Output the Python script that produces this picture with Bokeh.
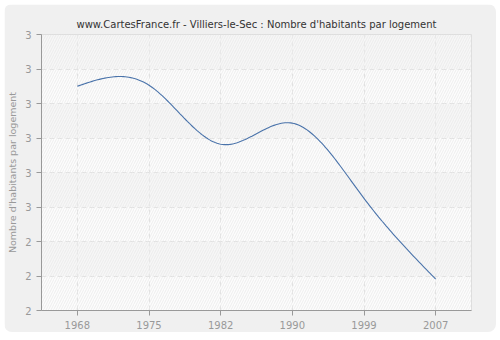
import numpy as np
from bokeh.plotting import figure
from bokeh.models import FixedTicker, BoxAnnotation
from bokeh.embed import file_html
from bokeh.resources import INLINE

years = ["1968", "1975", "1982", "1990", "1999", "2007"]
values = [2.850, 2.853, 2.682, 2.743, 2.525, 2.291]
y_ticks = [2.2, 2.3, 2.4, 2.5, 2.6, 2.7, 2.8, 2.9, 3.0]
y_tick_labels = ["2", "2", "2", "3", "3", "3", "3", "3", "3"]

# natural cubic spline through the data points (index space) for a smooth line
xi = np.arange(len(values), dtype=float)
yi = np.array(values)
n = len(yi)
A = np.zeros((n, n)); d = np.zeros(n)
A[0, 0] = 1; A[-1, -1] = 1
for i in range(1, n - 1):
    A[i, i - 1] = 1; A[i, i] = 4; A[i, i + 1] = 1
    d[i] = 6 * (yi[i + 1] - 2 * yi[i] + yi[i - 1])
M = np.linalg.solve(A, d)
xs, ys = [], []
for i in range(n - 1):
    t = np.linspace(0, 1, 40)
    a, b = yi[i], yi[i + 1]
    s = (1 - t) * a + t * b + ((1 - t) ** 3 - (1 - t)) * M[i] / 6 + (t ** 3 - t) * M[i + 1] / 6
    xs.extend(list(xi[i] + t)); ys.extend(list(s))

p = figure(output_backend="svg", toolbar_location=None,
           frame_width=430, frame_height=276,
           x_range=(-0.5, len(years) - 0.5), y_range=(2.2, 3.0),
           min_border_left=36, min_border_right=25, min_border_top=30, min_border_bottom=22,
           margin=(4, 5, 6, 4),
           title="www.CartesFrance.fr - Villiers-le-Sec : Nombre d'habitants par logement",
           styles={"border-radius": "8px", "overflow": "hidden"})

p.background_fill_color = "#fdfdfd"
p.border_fill_color = "#f0f0f0"
p.outline_line_color = "#dddddd"

p.title.align = "center"
p.title.text_font = "DejaVu Sans"
p.title.text_font_size = "10px"
p.title.text_font_style = "normal"
p.title.text_color = "#333333"
p.title.offset = 0

hatch = BoxAnnotation(fill_alpha=0, line_alpha=0, hatch_pattern="/",
                      hatch_color="#e6e6e6", hatch_scale=5, hatch_weight=0.7,
                      level="underlay")
p.add_layout(hatch)

p.line(xs, ys, line_color="#4a73aa", line_width=1.1)

p.xaxis.ticker = FixedTicker(ticks=list(range(len(years))))
p.xaxis.major_label_overrides = {i: y for i, y in enumerate(years)}
p.yaxis.ticker = FixedTicker(ticks=y_ticks)
p.yaxis.major_label_overrides = {t: l for t, l in zip(y_ticks, y_tick_labels)}
p.yaxis.axis_label = "Nombre d'habitants par logement"

for ax in (p.xaxis, p.yaxis):
    ax.axis_line_color = "#999999"
    ax.major_tick_line_color = "#999999"
    ax.major_tick_in = 0
    ax.major_tick_out = 5
    ax.minor_tick_line_color = None
    ax.major_label_text_font = "DejaVu Sans"
    ax.major_label_text_font_size = "10px"
    ax.major_label_text_color = "#999999"
    ax.axis_label_text_font = "DejaVu Sans"
    ax.axis_label_text_font_size = "9.5px"
    ax.axis_label_text_font_style = "normal"
    ax.axis_label_text_color = "#999999"
p.xaxis.major_label_standoff = 5
p.yaxis.major_label_standoff = 5
p.yaxis.axis_label_standoff = 4

p.xgrid.ticker = FixedTicker(ticks=list(range(len(years))))
p.ygrid.ticker = FixedTicker(ticks=y_ticks)
for g in (p.xgrid, p.ygrid):
    g.grid_line_color = "#e2e2e2"
    g.grid_line_dash = "5 3"
    g.grid_line_width = 1
p.ygrid.band_fill_color = "#f0f0f0"
p.ygrid.band_fill_alpha = 0.45

open("out.html", "w").write(file_html(p, INLINE))
